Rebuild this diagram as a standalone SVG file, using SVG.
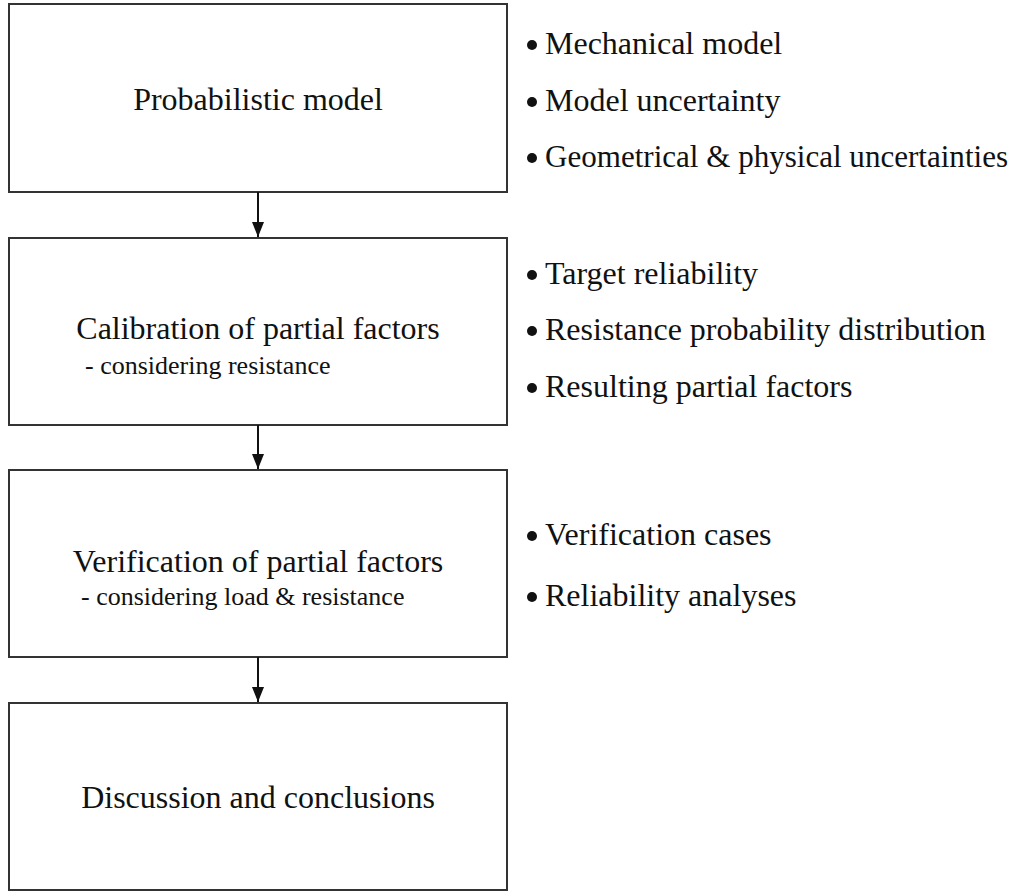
<svg xmlns="http://www.w3.org/2000/svg" width="1022" height="892" viewBox="0 0 1022 892">
  <style>
    .box { fill: #ffffff; stroke: #333333; stroke-width: 2; }
    .main { font-family: "Liberation Serif", "Times New Roman", serif; font-size: 32px; fill: #111111; text-anchor: middle; }
    .sub { font-family: "Liberation Serif", "Times New Roman", serif; font-size: 26px; fill: #111111; }
    .item { font-family: "Liberation Serif", "Times New Roman", serif; font-size: 32px; fill: #111111; }
    .conn { stroke: #111111; stroke-width: 2; fill: none; marker-end: url(#arrow); }
    .dot { fill: #111111; }
  </style>
  <defs>
    <marker id="arrow" markerWidth="15" markerHeight="12" refX="15" refY="6" orient="auto" markerUnits="userSpaceOnUse" viewBox="0 0 15 12">
      <path d="M0,0 L15,6 L0,12 Z" fill="#111111"/>
    </marker>
  </defs>
  <rect width="1022" height="892" fill="#ffffff"/>

  <g id="node-probabilistic-model">
    <rect class="box" x="9" y="4" width="498" height="188"/>
    <text class="main" x="258" y="110">Probabilistic model</text>
  </g>

  <g id="node-calibration">
    <rect class="box" x="9" y="238" width="498" height="187"/>
    <text class="main" x="258" y="339">Calibration of partial factors</text>
    <text class="sub" x="85" y="374">- considering resistance</text>
  </g>

  <g id="node-verification">
    <rect class="box" x="9" y="470" width="498" height="187"/>
    <text class="main" x="258" y="572">Verification of partial factors</text>
    <text class="sub" x="81" y="605">- considering load &amp; resistance</text>
  </g>

  <g id="node-discussion">
    <rect class="box" x="9" y="703" width="498" height="187"/>
    <text class="main" x="258" y="808">Discussion and conclusions</text>
  </g>

  <g id="connectors">
    <line class="conn" x1="258" y1="192" x2="258" y2="237"/>
    <line class="conn" x1="258" y1="425" x2="258" y2="469"/>
    <line class="conn" x1="258" y1="657" x2="258" y2="702"/>
  </g>

  <g id="notes-probabilistic-model">
    <circle class="dot" cx="532" cy="45" r="5"/>
    <text class="item" x="545" y="54">Mechanical model</text>
    <circle class="dot" cx="532" cy="102" r="5"/>
    <text class="item" x="545" y="111">Model uncertainty</text>
    <circle class="dot" cx="532" cy="158" r="5"/>
    <text class="item" x="545" y="167" textLength="463" lengthAdjust="spacingAndGlyphs">Geometrical &amp; physical uncertainties</text>
  </g>

  <g id="notes-calibration">
    <circle class="dot" cx="532" cy="275" r="5"/>
    <text class="item" x="545" y="284">Target reliability</text>
    <circle class="dot" cx="532" cy="331" r="5"/>
    <text class="item" x="545" y="340">Resistance probability distribution</text>
    <circle class="dot" cx="532" cy="388" r="5"/>
    <text class="item" x="545" y="397">Resulting partial factors</text>
  </g>

  <g id="notes-verification">
    <circle class="dot" cx="532" cy="536" r="5"/>
    <text class="item" x="545" y="545">Verification cases</text>
    <circle class="dot" cx="532" cy="597" r="5"/>
    <text class="item" x="545" y="606">Reliability analyses</text>
  </g>
</svg>
